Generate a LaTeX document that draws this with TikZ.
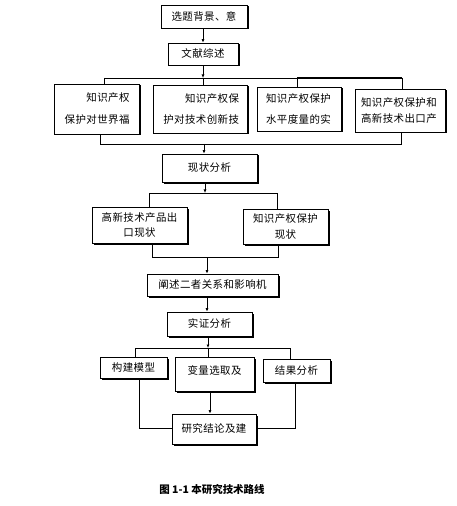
\documentclass[tikz,border=0pt]{standalone}
\usepackage{fontspec}
\setmainfont[LetterSpace=4]{Noto Sans CJK SC}
\newfontfamily\biaoti{Noto Sans CJK SC}
\usetikzlibrary{arrows.meta,shadows}
\tikzset{
	kuang/.style={draw,fill=white,line width=0.7bp,inner sep=1bp,font=\fontsize{10.5}{22}\selectfont,
		drop shadow={shadow xshift=1.5bp,shadow yshift=-1.5bp,fill=black,opacity=1}},
	xian/.style={line width=0.7bp},
	jian/.style={xian,-{Latex[length=3.5bp,width=3bp]}}
}

\begin{document}
\begin{tikzpicture}[x=1bp,y=-1bp]
			\useasboundingbox (0,0) rectangle (457,506);
			\node[kuang,minimum width=86bp,minimum height=23bp] (beijing) at (204,16.5) {选题背景、意};
			\node[kuang,minimum width=70bp,minimum height=22bp] (zongshu) at (203,54) {文献综述};
			\node[kuang,minimum width=85bp,minimum height=50bp,text width=66bp,align=right] (zsA) at (96.5,109) {知识产权\\保护对世界福};
			\node[kuang,minimum width=94bp,minimum height=48bp,text width=78bp,align=right] (zsB) at (200,109) {知识产权保\\护对技术创新技};
			\node[kuang,minimum width=84bp,minimum height=44bp,text width=66bp,align=left] (zsC) at (299,109) {知识产权保护\\水平度量的实};
			\node[kuang,minimum width=90bp,minimum height=43bp,text width=78bp,align=left,font=\fontsize{10.5}{16}\selectfont] (zsD) at (400,110.5) {知识产权保护和\\高新技术出口产};
			\node[kuang,minimum width=95bp,minimum height=28bp] (xianzhuang) at (209.5,168) {现状分析};
			\node[kuang,minimum width=95bp,minimum height=36bp,text width=90bp,align=center,font=\fontsize{10.5}{16}\selectfont] (chukou) at (139.5,225) {高新技术产品出\\口现状};
			\node[kuang,minimum width=85bp,minimum height=35bp,text width=80bp,align=center,font=\fontsize{10.5}{16}\selectfont] (baohu) at (285.5,226.5) {知识产权保护\\现状};
			\node[kuang,minimum width=131bp,minimum height=22bp] (jizhi) at (212.5,285) {阐述二者关系和影响机};
			\node[kuang,minimum width=85bp,minimum height=24bp] (shizheng) at (209.5,324) {实证分析};
			\node[kuang,minimum width=67bp,minimum height=21bp] (moxing) at (133.5,367.5) {构建模型};
			\node[kuang,minimum width=79bp,minimum height=34bp,text height=14bp,text depth=14bp] (bianliang) at (214.5,374) {变量选取及};
			\node[kuang,minimum width=67bp,minimum height=23bp] (jieguo) at (296.5,370.5) {结果分析};
			\node[kuang,minimum width=84bp,minimum height=30bp] (jielun) at (214,429) {研究结论及建};
			\node[font=\fontsize{10.5}{12}\biaoti\bfseries] (tuming) at (212,490) {图 1-1 本研究技术路线};

			\coordinate (a1) at (104,78); \coordinate (a2) at (203,78); \coordinate (a3) at (297,78); \coordinate (a4) at (402,78);
			\coordinate (b1) at (100,144); \coordinate (b2) at (204,144); \coordinate (b3) at (401,144);
			\coordinate (c1) at (149,193); \coordinate (c2) at (277,193);
			\coordinate (d1) at (152,257); \coordinate (d2) at (207,257); \coordinate (d3) at (278,257);
			\coordinate (e1) at (135,348); \coordinate (e2) at (208,348); \coordinate (e3) at (290,348);
			\coordinate (f1) at (139,428); \coordinate (f2) at (295,428);

			\draw[jian] (beijing.south -| zongshu) -- (zongshu);
			\draw[jian] (zongshu) -- (a2);
			\draw[xian] (a1) -- (a4);
			\draw[line width=1.6bp] (a3) -- (a4);
			\foreach \p/\n in {a1/zsA,a2/zsB,a3/zsC,a4/zsD}{
				\draw[xian] (\p) -- (\p |- \n.north);
			}
			\draw[xian] (b1 |- zsA.south) -- (b1) -- (b3) -- (b3 |- zsD.south);
			\draw[jian] (b2) -- (b2 |- xianzhuang.north);
			\draw[jian] (xianzhuang.south -| 205,0) -- (205,193);
			\draw[xian] (c1 |- chukou.north) -- (c1) -- (c2) -- (c2 |- baohu.north);
			\draw[xian] (d1 |- chukou.south) -- (d1) -- (d3) -- (d3 |- baohu.south);
			\draw[jian] (d2) -- (d2 |- jizhi.north);
			\draw[jian] (jizhi.south -| d2) -- (d2 |- shizheng.north);
			\draw[jian] (shizheng.south -| e2) -- (e2);
			\draw[xian] (e1) -- (e3);
			\foreach \p/\n in {e1/moxing,e2/bianliang,e3/jieguo}{
				\draw[xian] (\p) -- (\p |- \n.north);
			}
			\draw[jian] (bianliang.south -| 210,0) -- (210,0 |- jielun.north);
			\draw[xian] (f1 |- moxing.south) -- (f1) -- (f1 -| jielun.west);
			\draw[xian] (f2 |- jieguo.south) -- (f2) -- (f2 -| jielun.east);
		\end{tikzpicture}
\end{document}
